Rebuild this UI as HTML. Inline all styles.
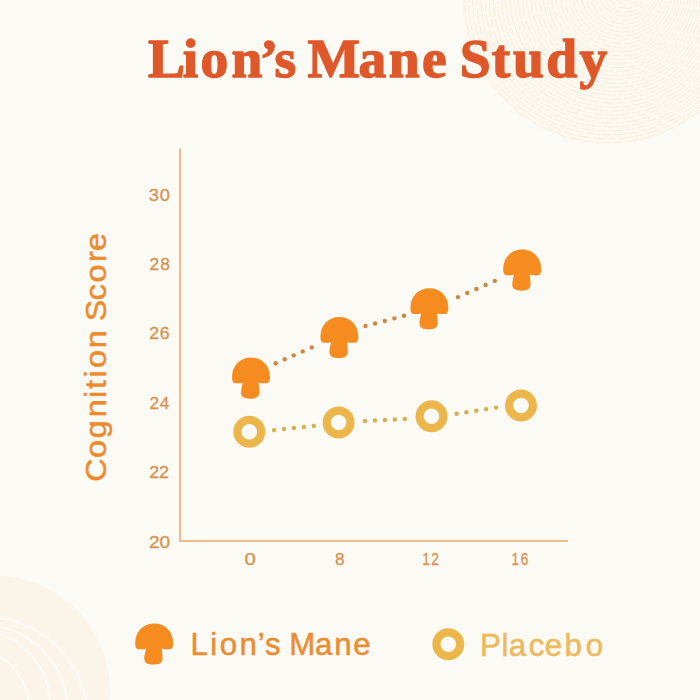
<!DOCTYPE html>
<html><head><meta charset="utf-8">
<style>
html,body{margin:0;padding:0;background:#FCFAF5;width:700px;height:700px;overflow:hidden}
svg{display:block}
</style></head>
<body>
<svg width="700" height="700" viewBox="0 0 700 700">
<defs>
<path id="mush" d="M10.5,25 C9.5,25.7 7,25.8 4,25.8 C1.2,25.8 0,23.5 0,20 C0,8 8,0 19,0 C30,0 38,8 38,20 C38,23.5 36.8,25.8 34,25.8 C31,25.8 27.8,25.7 26.6,25 C26.6,28 27.4,31 27.4,35 C27.4,39.5 23.5,41.2 18.2,41.2 C12.9,41.2 9,39.5 9,35 C9,31 10.5,28 10.5,25 Z"/>
</defs>
<rect width="700" height="700" fill="#FCFAF5"/>
<circle cx="608" cy="-1" r="146" fill="#FBF8F0"/><g fill="none" stroke="#F5EDDC" stroke-width="0.9" stroke-dasharray="14 3 9 2"><circle cx="608.3" cy="-1.2" r="144.0"/><circle cx="608.8" cy="-1.6" r="140.4"/><circle cx="609.4" cy="-1.9" r="136.8"/><circle cx="609.9" cy="-2.3" r="133.2"/><circle cx="610.5" cy="-2.6" r="129.6"/><circle cx="611.0" cy="-3.0" r="126.0"/><circle cx="611.5" cy="-3.4" r="122.4"/><circle cx="612.1" cy="-3.7" r="118.8"/><circle cx="612.6" cy="-4.1" r="115.2"/><circle cx="613.2" cy="-4.4" r="111.6"/><circle cx="613.7" cy="-4.8" r="108.0"/><circle cx="614.2" cy="-5.2" r="104.4"/><circle cx="614.8" cy="-5.5" r="100.8"/><circle cx="615.3" cy="-5.9" r="97.2"/><circle cx="615.9" cy="-6.2" r="93.6"/><circle cx="616.4" cy="-6.6" r="90.0"/><circle cx="616.9" cy="-7.0" r="86.4"/><circle cx="617.5" cy="-7.3" r="82.8"/><circle cx="618.0" cy="-7.7" r="79.2"/><circle cx="618.6" cy="-8.0" r="75.6"/><circle cx="619.1" cy="-8.4" r="72.0"/><circle cx="619.6" cy="-8.8" r="68.4"/><circle cx="620.2" cy="-9.1" r="64.8"/><circle cx="620.7" cy="-9.5" r="61.2"/><circle cx="621.3" cy="-9.8" r="57.6"/><circle cx="621.8" cy="-10.2" r="54.0"/><circle cx="622.3" cy="-10.6" r="50.4"/><circle cx="622.9" cy="-10.9" r="46.8"/><circle cx="623.4" cy="-11.3" r="43.2"/><circle cx="624.0" cy="-11.6" r="39.6"/><circle cx="624.5" cy="-12.0" r="36.0"/><circle cx="625.0" cy="-12.4" r="32.4"/><circle cx="625.6" cy="-12.7" r="28.8"/><circle cx="626.1" cy="-13.1" r="25.2"/><circle cx="626.7" cy="-13.4" r="21.6"/><circle cx="627.2" cy="-13.8" r="18.0"/><circle cx="627.7" cy="-14.2" r="14.4"/><circle cx="628.3" cy="-14.5" r="10.8"/><circle cx="628.8" cy="-14.9" r="7.2"/></g><circle cx="-5.3" cy="690.9" r="115.4" fill="#FAF4E9"/><g fill="none" stroke="#FCFAF4" stroke-width="2.2"><circle cx="-13.3" cy="718" r="100.6"/><circle cx="-20" cy="712" r="88"/><circle cx="-31.3" cy="708.8" r="60.5"/><circle cx="-25" cy="705" r="75"/></g>
<text x="148.7 183.5 201.36 232.56 260.82 275.59 297.28 308.87 359.9 390.27 423.82 448.56 461.75 493.8 515.04 548.44 581.81" y="0" transform="translate(0,76.9) scale(0.99582,1)" font-family="'Liberation Serif', serif" font-weight="bold" font-size="55.743" fill="#DF5829" stroke="#DF5829" stroke-width="1.4" stroke-linejoin="round">Lion’s Mane Study</text>
<rect x="179" y="148.5" width="2" height="393.5" fill="#EEBB88"/>
<rect x="179" y="540" width="389" height="2" fill="#EEBB88"/>
<text x="138.05 148.25" y="0" transform="translate(0,200.60) scale(1.07824,1)" font-family="'Liberation Sans', sans-serif" font-weight="normal" font-size="16.861" fill="#D8914C" stroke="#D8914C" stroke-width="0.3" stroke-linejoin="round">30</text>
<text x="144.74 155.25" y="0" transform="translate(0,270.04) scale(1.03258,1)" font-family="'Liberation Sans', sans-serif" font-weight="normal" font-size="16.861" fill="#D8914C" stroke="#D8914C" stroke-width="0.3" stroke-linejoin="round">28</text>
<text x="142.56 152.42" y="0" transform="translate(0,339.48) scale(1.04791,1)" font-family="'Liberation Sans', sans-serif" font-weight="normal" font-size="16.861" fill="#D8914C" stroke="#D8914C" stroke-width="0.3" stroke-linejoin="round">26</text>
<text x="147.62 157.65" y="0" transform="translate(0,408.92) scale(1.01306,1)" font-family="'Liberation Sans', sans-serif" font-weight="normal" font-size="16.861" fill="#D8914C" stroke="#D8914C" stroke-width="0.3" stroke-linejoin="round">24</text>
<text x="141.63 150.83" y="0" transform="translate(0,478.36) scale(1.05452,1)" font-family="'Liberation Sans', sans-serif" font-weight="normal" font-size="16.861" fill="#D8914C" stroke="#D8914C" stroke-width="0.3" stroke-linejoin="round">22</text>
<text x="131.47 140.83" y="0" transform="translate(0,547.80) scale(1.13320,1)" font-family="'Liberation Sans', sans-serif" font-weight="normal" font-size="16.861" fill="#D8914C" stroke="#D8914C" stroke-width="0.3" stroke-linejoin="round">20</text>
<text x="204.87" y="0" transform="translate(0,564.9) scale(1.19320,1)" font-family="'Liberation Sans', sans-serif" font-weight="normal" font-size="17.006" fill="#D8914C" stroke="#D8914C" stroke-width="0.3" stroke-linejoin="round">0</text>
<text x="330.13" y="0" transform="translate(0,564.9) scale(1.01505,1)" font-family="'Liberation Sans', sans-serif" font-weight="normal" font-size="17.006" fill="#D8914C" stroke="#D8914C" stroke-width="0.3" stroke-linejoin="round">8</text>
<text x="526.09 537.41" y="0" transform="translate(0,564.9) scale(0.80247,1)" font-family="'Liberation Sans', sans-serif" font-weight="normal" font-size="17.006" fill="#D8914C" stroke="#D8914C" stroke-width="0.3" stroke-linejoin="round">12</text>
<text x="641.95 653.55" y="0" transform="translate(0,564.9) scale(0.79679,1)" font-family="'Liberation Sans', sans-serif" font-weight="normal" font-size="17.006" fill="#D8914C" stroke="#D8914C" stroke-width="0.3" stroke-linejoin="round">16</text>
<text x="-1.66 20.68 39.16 58.72 76.61 85.04 95.92 104.8 123.2 140.01 148.58 168.06 184.66 203.98 214.24" y="0" transform="translate(105.5,480.0) rotate(-90) scale(1.06930,1)" font-family="'Liberation Sans', sans-serif" font-weight="normal" font-size="30.233" fill="#EE8A2B" stroke="#EE8A2B" stroke-width="0.5" stroke-linejoin="round">Cognition Score</text>
<g fill="#CF8540"><circle cx="275.70" cy="363.30" r="2.2"/><circle cx="284.70" cy="359.32" r="2.2"/><circle cx="293.70" cy="355.35" r="2.2"/><circle cx="302.70" cy="351.38" r="2.2"/><circle cx="311.70" cy="347.40" r="2.2"/><circle cx="365.50" cy="326.00" r="2.2"/><circle cx="375.12" cy="323.45" r="2.2"/><circle cx="384.75" cy="320.90" r="2.2"/><circle cx="394.38" cy="318.35" r="2.2"/><circle cx="404.00" cy="315.80" r="2.2"/><circle cx="458.00" cy="297.10" r="2.2"/><circle cx="467.20" cy="293.05" r="2.2"/><circle cx="476.40" cy="289.00" r="2.2"/><circle cx="485.60" cy="284.95" r="2.2"/><circle cx="494.80" cy="280.90" r="2.2"/></g>
<g fill="#D8AE4A"><circle cx="274.00" cy="430.10" r="2.2"/><circle cx="283.95" cy="429.05" r="2.2"/><circle cx="293.90" cy="428.00" r="2.2"/><circle cx="303.85" cy="426.95" r="2.2"/><circle cx="313.80" cy="425.90" r="2.2"/><circle cx="365.00" cy="421.00" r="2.2"/><circle cx="374.95" cy="420.50" r="2.2"/><circle cx="384.90" cy="420.00" r="2.2"/><circle cx="394.85" cy="419.50" r="2.2"/><circle cx="404.80" cy="419.00" r="2.2"/><circle cx="456.60" cy="413.70" r="2.2"/><circle cx="466.45" cy="412.18" r="2.2"/><circle cx="476.30" cy="410.65" r="2.2"/><circle cx="486.15" cy="409.12" r="2.2"/><circle cx="496.00" cy="407.60" r="2.2"/></g>
<g fill="#F68B1F">
<use href="#mush" transform="translate(232,357.5)"/>
<use href="#mush" transform="translate(320.4,317)"/>
<use href="#mush" transform="translate(410.4,288.2)"/>
<use href="#mush" transform="translate(503.2,249.6)"/>
<use href="#mush" transform="translate(135.2,623.4)"/>
</g>
<g fill="none" stroke="#EDB64B" stroke-width="8.2">
<circle cx="249.3" cy="431.8" r="11.9"/>
<circle cx="338.6" cy="422.5" r="11.9"/>
<circle cx="431.5" cy="416.2" r="11.9"/>
<circle cx="521" cy="405.5" r="11.9"/>
<circle cx="448.3" cy="644.3" r="11.9"/>
</g>
<text x="191.47 211.36 220.94 240.82 259.15 266.43 282.13 290.73 316.68 336.02 355.18" y="0" transform="translate(0,654.8) scale(0.99470,1)" font-family="'Liberation Sans', sans-serif" font-weight="normal" font-size="31.396" fill="#EC8C30" stroke="#EC8C30" stroke-width="0.5" stroke-linejoin="round">Lion’s Mane</text>
<text x="479.32 500.7 508.05 527.81 543.94 563.53 584.84" y="0" transform="translate(0,655.5) scale(1.00163,1)" font-family="'Liberation Sans', sans-serif" font-weight="normal" font-size="31.251" fill="#EDB95A" stroke="#EDB95A" stroke-width="0.5" stroke-linejoin="round">Placebo</text>
</svg>
</body></html>
